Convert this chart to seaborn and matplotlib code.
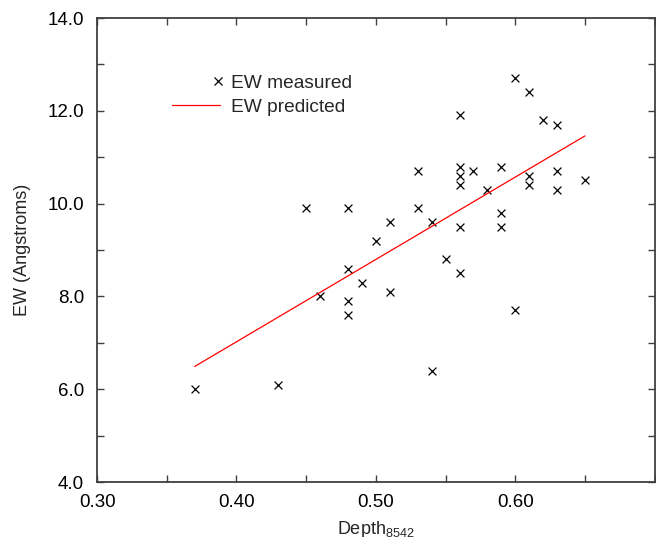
import matplotlib
matplotlib.use("Agg")
import matplotlib.pyplot as plt
from matplotlib.ticker import MultipleLocator, FuncFormatter
from matplotlib.lines import Line2D
from matplotlib.legend_handler import HandlerLine2DCompound
import numpy as np
import pandas as pd
import seaborn as sns

# measured points (Depth_8542, EW)
depth = [0.37, 0.43, 0.45, 0.46, 0.48, 0.48, 0.48, 0.48, 0.49, 0.50,
         0.51, 0.51, 0.53, 0.53, 0.54, 0.54, 0.55, 0.56, 0.56, 0.56,
         0.56, 0.56, 0.56, 0.57, 0.58, 0.59, 0.59, 0.59, 0.60, 0.60,
         0.61, 0.61, 0.61, 0.62, 0.63, 0.63, 0.63, 0.65]
ew = [6.0, 6.1, 9.9, 8.0, 9.9, 8.6, 7.9, 7.6, 8.3, 9.2,
      9.6, 8.1, 10.7, 9.9, 9.6, 6.4, 8.8, 11.9, 10.8, 10.6,
      10.4, 9.5, 8.5, 10.7, 10.3, 10.8, 9.8, 9.5, 12.7, 7.7,
      12.4, 10.6, 10.4, 11.8, 11.7, 10.7, 10.3, 10.5]

# predicted line end points
pred_depth = [0.37, 0.65]
pred_ew = [6.49, 11.46]

measured = pd.DataFrame({"depth": depth, "ew": ew})
predicted = pd.DataFrame({"depth": pred_depth, "ew": pred_ew})

sns.set_style("white")
plt.rcParams["font.family"] = ["Liberation Sans", "DejaVu Sans"]

fig = plt.figure(figsize=(6.56, 5.37), dpi=100)
ax = fig.add_axes([0.148, 0.1024, 0.850, 0.864])

sns.scatterplot(x="depth", y="ew", data=measured, marker="x", color="black",
                s=32, linewidth=0.9, ax=ax, legend=False)
sns.lineplot(x="depth", y="ew", data=predicted, color="red", linewidth=0.9,
             ax=ax, legend=False)

ax.set_xlim(0.30, 0.70)
ax.set_ylim(4.0, 14.0)

ax.xaxis.set_major_locator(MultipleLocator(0.05))
ax.yaxis.set_major_locator(MultipleLocator(1.0))


def xfmt(v, pos):
    k = round(v * 100)
    if k % 10 == 0 and k < 70:
        return f"{v:.2f}"
    return ""


def yfmt(v, pos):
    k = round(v)
    return f"{v:.1f}" if k % 2 == 0 else ""


ax.xaxis.set_major_formatter(FuncFormatter(xfmt))
ax.yaxis.set_major_formatter(FuncFormatter(yfmt))
ax.tick_params(direction="in", length=5, width=1, colors="#404040",
               labelcolor="black", labelsize=13.5, top=True, right=True,
               bottom=True, left=True)
ax.tick_params(axis="x", pad=8.5)
ax.tick_params(axis="y", pad=9.5)
for sp in ax.spines.values():
    sp.set_color("#404040")
    sp.set_linewidth(1.3)

ax.set_xlabel("Depth$_{\\mathregular{8542}}$", fontsize=13, labelpad=6)
ax.set_ylabel("EW (Angstroms)", fontsize=13, labelpad=12)


class RightMarker(HandlerLine2DCompound):
    # marker sits at the right end of the handle, next to the text
    def get_xdata(self, legend, xdescent, ydescent, width, height, fontsize):
        xdata = np.array([-xdescent, -xdescent + width])
        return xdata, np.array([-xdescent + width - 1])


handles = [Line2D([], [], color="black", marker="x", linestyle="none",
                  markersize=6, markeredgewidth=0.9),
           Line2D([], [], color="red", linewidth=0.9)]
ax.legend(handles, ["EW measured", "EW predicted"],
          handler_map={handles[0]: RightMarker()},
          loc="upper left", bbox_to_anchor=(0.103, 0.915), frameon=False,
          fontsize=13.8, handlelength=2.5, handletextpad=0.6, labelspacing=0.33)

fig.savefig("out.png", dpi=100)
